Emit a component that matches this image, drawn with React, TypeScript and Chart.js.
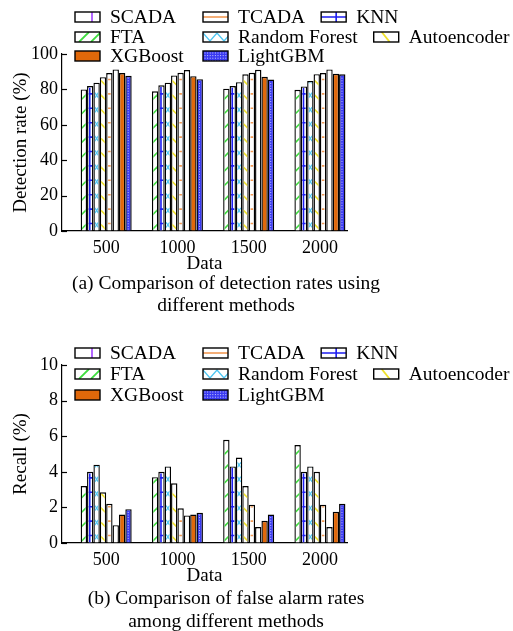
import React, { useEffect, useRef } from 'react';
import { Chart, registerables } from 'chart.js';

Chart.register(...registerables);

// ---------- data ----------
const categories = ['500', '1000', '1500', '2000'];
const methods = ['FTA', 'KNN', 'Random Forest', 'Autoencoder', 'TCADA', 'SCADA', 'XGBoost', 'LightGBM'];
const legendRows = [
  ['SCADA', 'TCADA', 'KNN'],
  ['FTA', 'Random Forest', 'Autoencoder'],
  ['XGBoost', 'LightGBM'],
];

// (a) detection rate (%)
const detFTA = [80.0, 78.9, 80.4, 79.8];
const detKNN = [81.9, 82.3, 81.9, 81.7];
const detRF = [83.8, 83.8, 84.1, 84.7];
const detAE = [86.9, 87.9, 88.5, 88.6];
const detTCADA = [89.2, 89.4, 89.4, 89.2];
const detSCADA = [91.3, 90.9, 91.1, 91.3];
const detXGB = [89.2, 87.5, 87.1, 88.8];
const detLGBM = [87.7, 85.8, 85.6, 88.5];

// (b) false alarm / recall (%)
const farFTA = [3.2, 3.7, 5.8, 5.5];
const farKNN = [4.0, 4.0, 4.3, 4.0];
const farRF = [4.4, 4.3, 4.8, 4.3];
const farAE = [2.85, 3.35, 3.2, 4.0];
const farTCADA = [2.2, 1.95, 2.15, 2.15];
const farSCADA = [1.0, 1.55, 0.9, 0.9];
const farXGB = [1.6, 1.6, 1.25, 1.75];
const farLGBM = [1.9, 1.7, 1.6, 2.2];

const detTicks = [0, 20, 40, 60, 80, 100];
const farTicks = [0, 2, 4, 6, 8, 10];

// ---------- styles ----------
const FONT = 'Liberation Serif';
const GREEN = '#3fdc3f';
const BLUE = '#1c1cf0';
const CYAN = '#4ec6f2';
const YELLOW = '#f0e22a';
const ORANGE_L = '#f29a55';
const PURPLE = '#a040ff';
const ORANGE = '#e0680a';
const LGBM_BLUE = '#3a3af2';
const BORDER_W = 1.4;

function fillOf(m: string): string {
  if (m === 'XGBoost') return ORANGE;
  if (m === 'LightGBM') return LGBM_BLUE;
  return '#ffffff';
}

function seg(ctx: CanvasRenderingContext2D, x1: number, y1: number, x2: number, y2: number) {
  ctx.beginPath();
  ctx.moveTo(x1, y1);
  ctx.lineTo(x2, y2);
  ctx.stroke();
}

function drawBarDeco(ctx: CanvasRenderingContext2D, m: string, l: number, t: number, r: number, b: number) {
  const w = r - l;
  if (w <= 0 || b <= t) return;
  ctx.save();
  ctx.beginPath();
  ctx.rect(l, t, w, b - t);
  ctx.clip();
  const P = 14.4;
  const cx = (l + r) / 2;
  if (m === 'FTA') {
    ctx.strokeStyle = GREEN; ctx.lineWidth = 1.6;
    for (let y = b - 2; y > t - P; y -= P) seg(ctx, l - 1, y + 1, r + 1, y - w - 1);
  } else if (m === 'KNN') {
    ctx.strokeStyle = BLUE; ctx.lineWidth = 1.6;
    seg(ctx, cx - 0.5, t, cx - 0.5, b);
    for (let y = b - 7; y > t; y -= P) seg(ctx, l, y, r, y);
  } else if (m === 'Random Forest') {
    ctx.strokeStyle = CYAN; ctx.lineWidth = 1.2;
    for (let y = b; y > t - P; y -= P) {
      seg(ctx, l, y - 3, r, y - P / 2 - 1);
      seg(ctx, l, y - P / 2 - 1, r, y - 3);
    }
  } else if (m === 'Autoencoder') {
    ctx.strokeStyle = YELLOW; ctx.lineWidth = 1.6;
    for (let y = b - 2; y > t - P; y -= P) seg(ctx, l - 1, y - w - 1, r + 1, y + 1);
  } else if (m === 'TCADA') {
    ctx.strokeStyle = ORANGE_L; ctx.lineWidth = 1.6;
    for (let y = b - 7; y > t; y -= P) seg(ctx, l + 0.5, y, r - 0.5, y);
  } else if (m === 'LightGBM') {
    ctx.fillStyle = 'rgba(255,255,255,0.75)';
    for (let y = b - 2; y > t; y -= 2.6) for (let x = l + 1; x < r; x += 2.6) ctx.fillRect(x, y, 1, 1);
  }
  ctx.restore();
}

function drawIcon(ctx: CanvasRenderingContext2D, m: string, x: number, yc: number) {
  const w = 25, h = 10;
  const l = x, t = yc - h / 2, r = x + w, b = yc + h / 2;
  ctx.save();
  ctx.fillStyle = fillOf(m);
  ctx.fillRect(l, t, w, h);
  ctx.beginPath();
  ctx.rect(l, t, w, h);
  ctx.clip();
  if (m === 'SCADA') {
    ctx.strokeStyle = PURPLE; ctx.lineWidth = 1.6; seg(ctx, l + 17, t, l + 17, b);
  } else if (m === 'TCADA') {
    ctx.strokeStyle = ORANGE_L; ctx.lineWidth = 1.6; seg(ctx, l, yc, r, yc);
  } else if (m === 'KNN') {
    ctx.strokeStyle = BLUE; ctx.lineWidth = 1.6; seg(ctx, l + 15, t, l + 15, b); seg(ctx, l, yc, r, yc);
  } else if (m === 'FTA') {
    ctx.strokeStyle = GREEN; ctx.lineWidth = 1.8; seg(ctx, l + 4, b, l + 14, t); seg(ctx, l + 16, b, l + 26, t);
  } else if (m === 'Random Forest') {
    ctx.strokeStyle = CYAN; ctx.lineWidth = 1.3;
    ctx.beginPath(); ctx.moveTo(l, t + 1); ctx.lineTo(l + 7, b - 1); ctx.lineTo(l + 14, t + 1); ctx.lineTo(l + 21, b - 1); ctx.lineTo(l + 28, t + 1); ctx.stroke();
  } else if (m === 'Autoencoder') {
    ctx.strokeStyle = YELLOW; ctx.lineWidth = 1.8; seg(ctx, l + 8, t, l + 16, b);
  } else if (m === 'LightGBM') {
    ctx.fillStyle = 'rgba(255,255,255,0.75)';
    for (let y = t + 1.5; y < b; y += 2.6) for (let xx = l + 1.5; xx < r; xx += 2.6) ctx.fillRect(xx, y, 1, 1);
  }
  ctx.restore();
  ctx.save();
  ctx.strokeStyle = '#000';
  ctx.lineWidth = 1.4;
  ctx.strokeRect(l, t, w, h);
  ctx.restore();
}

const patternPlugin = {
  id: 'barPatterns',
  afterDatasetsDraw(chart: any) {
    const ctx = chart.ctx as CanvasRenderingContext2D;
    chart.data.datasets.forEach((ds: any, i: number) => {
      const meta = chart.getDatasetMeta(i);
      meta.data.forEach((el: any) => {
        const p = el.getProps(['x', 'y', 'base', 'width'], true);
        const bw = BORDER_W;
        drawBarDeco(ctx, ds.label, p.x - p.width / 2 + bw, p.y + bw, p.x + p.width / 2 - bw, p.base);
      });
    });
  },
};

const legendPlugin = {
  id: 'gridLegend',
  afterDraw(chart: any, _args: any, opts: any) {
    const ctx = chart.ctx as CanvasRenderingContext2D;
    const rowsY: number[] = opts.rowsY;
    ctx.save();
    ctx.font = `19.5px "${FONT}"`;
    ctx.textBaseline = 'middle';
    ctx.textAlign = 'left';
    ctx.fillStyle = '#000';
    legendRows.forEach((row, ri) => {
      const y = rowsY[ri];
      let x3 = 0;
      row.forEach((m, ci) => {
        let x = 75;
        if (ci === 1) x = 203;
        if (ci === 2) x = x3;
        drawIcon(ctx, m, x, y);
        ctx.fillStyle = '#000';
        ctx.fillText(m, x + 35, y + 1);
        if (ci === 1) x3 = x + 35 + ctx.measureText(m).width + 16;
      });
    });
    ctx.restore();
  },
};

const inwardTicks = {
  id: 'inwardTicks',
  afterDraw(chart: any) {
    const ctx = chart.ctx as CanvasRenderingContext2D;
    const ys = chart.scales.y;
    const left = chart.chartArea.left;
    ctx.save();
    ctx.strokeStyle = '#000';
    ctx.lineWidth = 1.2;
    ys.ticks.forEach((t: any) => {
      const py = Math.round(ys.getPixelForValue(t.value)) + 0.5;
      seg(ctx, left, py, left + 5, py);
    });
    ctx.restore();
  },
};

type PanelProps = {
  top: number;
  height: number;
  padTop: number;
  yMax: number;
  yTicks: number[];
  yTitle: string;
  series: number[][];
  rowsY: number[];
};

function BarPanel({ top, height, padTop, yMax, yTicks, yTitle, series, rowsY }: PanelProps) {
  const ref = useRef<HTMLCanvasElement>(null);
  useEffect(() => {
    if (!ref.current) return;
    const chart = new Chart(ref.current, {
      type: 'bar',
      data: {
        datasets: methods.map((m, i) => ({
          label: m,
          data: series[i].map((v, k) => ({ x: k, y: v })),
          backgroundColor: fillOf(m),
          borderColor: '#000',
          borderWidth: BORDER_W,
          borderSkipped: 'start',
          categoryPercentage: 0.716,
          barPercentage: 1,
        })),
      } as any,
      options: {
        responsive: false,
        animation: false,
        events: [],
        layout: { padding: { left: 0, right: 166, top: padTop, bottom: 0 } },
        plugins: {
          legend: { display: false },
          tooltip: { enabled: false },
          gridLegend: { rowsY },
        } as any,
        scales: {
          x: {
            type: 'linear',
            min: -0.62,
            max: 3.38,
            offset: false,
            grid: { display: true, drawOnChartArea: false, drawTicks: false, offset: false },
            border: { display: true, color: '#000', width: 1.2 },
            afterBuildTicks: (s: any) => {
              s.ticks = categories.map((_, i) => ({ value: i }));
            },
            afterFit: (s: any) => {
              s.height = 44;
            },
            ticks: {
              autoSkip: false,
              maxRotation: 0,
              padding: 6,
              color: '#000',
              font: { family: FONT, size: 18 },
              callback: (_v: any, i: number) => categories[i],
            },
            title: {
              display: true,
              text: 'Data',
              color: '#000',
              padding: { top: 0, bottom: 0 },
              font: { family: FONT, size: 19 },
            },
          },
          y: {
            type: 'linear',
            min: 0,
            max: yMax,
            grid: { display: true, drawOnChartArea: false, drawTicks: false },
            border: { display: true, color: '#000', width: 1.2 },
            afterBuildTicks: (s: any) => {
              s.ticks = yTicks.map((v) => ({ value: v }));
            },
            afterFit: (s: any) => {
              s.width = 62;
            },
            ticks: {
              padding: 4,
              color: '#000',
              font: { family: FONT, size: 18 },
            },
            title: {
              display: true,
              text: yTitle,
              color: '#000',
              padding: { top: 10, bottom: 0 },
              font: { family: FONT, size: 19 },
            },
          },
        } as any,
      },
      plugins: [patternPlugin, legendPlugin, inwardTicks],
    });
    return () => chart.destroy();
  }, []);
  return (
    <canvas
      ref={ref}
      width={513}
      height={height}
      style={{ position: 'absolute', left: 0, top, width: 513, height }}
    />
  );
}

const captionStyle: React.CSSProperties = {
  position: 'absolute',
  left: 0,
  width: 452,
  textAlign: 'center',
  fontFamily: FONT,
  fontSize: 19.5,
  lineHeight: '22px',
  color: '#000',
  whiteSpace: 'nowrap',
};

export default function App() {
  return (
    <div style={{ position: 'absolute', left: 0, top: 0, width: 513, height: 631, background: '#fff', overflow: 'hidden' }}>
      <BarPanel
        top={0}
        height={275}
        padTop={54}
        yMax={100}
        yTicks={detTicks}
        yTitle="Detection rate (%)"
        series={[detFTA, detKNN, detRF, detAE, detTCADA, detSCADA, detXGB, detLGBM]}
        rowsY={[17, 37, 56]}
      />
      <div style={{ ...captionStyle, top: 272 }}>(a) Comparison of detection rates using</div>
      <div style={{ ...captionStyle, top: 294 }}>different methods</div>
      <BarPanel
        top={330}
        height={257}
        padTop={35}
        yMax={10}
        yTicks={farTicks}
        yTitle="Recall (%)"
        series={[farFTA, farKNN, farRF, farAE, farTCADA, farSCADA, farXGB, farLGBM]}
        rowsY={[23, 44, 65]}
      />
      <div style={{ ...captionStyle, top: 587 }}>(b) Comparison of false alarm rates</div>
      <div style={{ ...captionStyle, top: 610 }}>among different methods</div>
    </div>
  );
}
